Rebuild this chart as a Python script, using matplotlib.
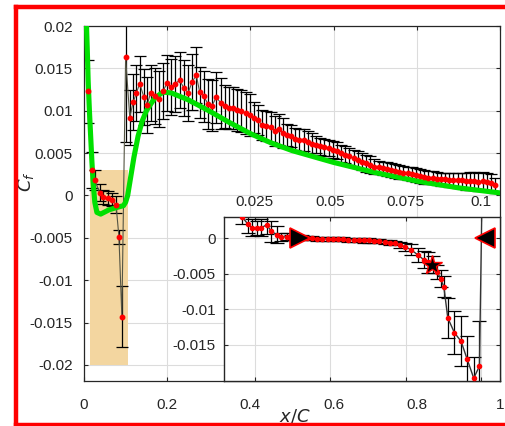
import matplotlib
matplotlib.use("Agg")
import matplotlib.pyplot as plt
from matplotlib.patches import Rectangle
from matplotlib.lines import Line2D

plt.rcParams['font.family'] = ['Liberation Sans', 'DejaVu Sans']

# ---------------- data ----------------
# CFD skin friction (green curve)
cfd_x = [0.006, 0.008, 0.010, 0.013, 0.016, 0.019, 0.022, 0.026, 0.031, 0.040, 0.060,
         0.080, 0.095, 0.100, 0.105, 0.110, 0.120, 0.130, 0.140, 0.150, 0.170, 0.190,
         0.210, 0.250, 0.300, 0.350, 0.400, 0.450, 0.500, 0.600, 0.700, 0.800, 0.900, 1.000]
cfd_y = [0.0200, 0.0170, 0.0135, 0.0100, 0.0070, 0.0040, 0.0015, -0.0008, -0.0020, -0.0022,
         -0.0017, -0.0014, -0.0012, -0.0008, 0.0000, 0.0015, 0.0045, 0.0070, 0.0088, 0.0100,
         0.0115, 0.0122, 0.0121, 0.0113, 0.0100, 0.0086, 0.0073, 0.0062, 0.0053, 0.0039,
         0.0027, 0.0017, 0.0009, 0.0003]

# experimental data, main axes
exp_x = [0.010, 0.019, 0.026, 0.038, 0.046, 0.058, 0.067, 0.077, 0.084, 0.091, 0.100,
         0.110, 0.118, 0.126, 0.134, 0.144, 0.152, 0.160, 0.170, 0.180, 0.190, 0.200,
         0.210, 0.219, 0.230, 0.240, 0.250, 0.260, 0.270, 0.278, 0.288, 0.298, 0.308,
         0.318, 0.329, 0.338, 0.348, 0.358, 0.368, 0.378, 0.389, 0.398, 0.409, 0.418,
         0.428, 0.438, 0.449, 0.458, 0.468, 0.478, 0.488, 0.498, 0.508, 0.518, 0.528,
         0.538, 0.548, 0.558, 0.568, 0.578, 0.588, 0.598, 0.608, 0.618, 0.628, 0.638,
         0.648, 0.658, 0.668, 0.678, 0.688, 0.698, 0.708, 0.718, 0.728, 0.738, 0.748,
         0.758, 0.768, 0.778, 0.788, 0.798, 0.808, 0.818, 0.828, 0.838, 0.848, 0.858,
         0.868, 0.878, 0.888, 0.898, 0.908, 0.918, 0.928, 0.938, 0.948, 0.958, 0.968,
         0.978, 0.988]
exp_y = [0.0123, 0.0030, 0.0018, 0.0003, -0.0002, -0.0003, -0.0005, -0.0011, -0.0049,
         -0.0143, 0.0163,
         0.0092, 0.0110, 0.0121, 0.0132, 0.0116, 0.0107, 0.0121, 0.0117, 0.0114, 0.0123,
         0.0133, 0.0128, 0.0132, 0.0136, 0.0127, 0.0121, 0.0134, 0.0142, 0.0122, 0.0117,
         0.0108, 0.0106, 0.0116, 0.0109, 0.0105, 0.0103, 0.0103, 0.0101, 0.0100, 0.0097,
         0.0095, 0.0092, 0.0089, 0.0083, 0.0082, 0.0081, 0.0076, 0.0078, 0.0074,
         0.0071, 0.0070, 0.0067, 0.0066, 0.0065, 0.0063, 0.0061, 0.0060, 0.0058, 0.0057,
         0.0056, 0.0054, 0.0053, 0.0050, 0.0048, 0.0046, 0.0044, 0.0042, 0.0040, 0.0038,
         0.0036, 0.0034, 0.0033, 0.0032, 0.0031, 0.0030, 0.0029, 0.0028, 0.0027, 0.0026,
         0.0025, 0.0024, 0.0023, 0.0022, 0.0021, 0.0021, 0.0020, 0.0019, 0.0019, 0.0018,
         0.0018, 0.0018, 0.0018, 0.0017, 0.0017, 0.0017, 0.0016, 0.0017, 0.0016, 0.0015,
         0.0012]
exp_err = [0.0037, 0.0021, 0.0012, 0.0010, 0.0008, 0.0008, 0.0008, 0.0010, 0.0008,
           0.0036, 0.0100,
           0.0033, 0.0033, 0.0033, 0.0033, 0.0033, 0.0033, 0.0033, 0.0033, 0.0033, 0.0033,
           0.0033, 0.0033, 0.0033, 0.0033, 0.0033, 0.0033, 0.0033, 0.0033, 0.0030, 0.0030,
           0.0030, 0.0030, 0.0030, 0.0030, 0.0025, 0.0025, 0.0025, 0.0025, 0.0025, 0.0025,
           0.0025, 0.0018, 0.0018, 0.0018, 0.0018, 0.0018, 0.0018, 0.0018, 0.0018,
           0.0013, 0.0013, 0.0013, 0.0013, 0.0013, 0.0013, 0.0013, 0.0010, 0.0010, 0.0010,
           0.0010, 0.0010, 0.0010, 0.0010, 0.0010, 0.0010, 0.0010, 0.0010, 0.0010, 0.0010,
           0.0010, 0.0009, 0.0008, 0.0008, 0.0008, 0.0008, 0.0008, 0.0008, 0.0008, 0.0008,
           0.0008, 0.0008, 0.0008, 0.0008, 0.0008, 0.0008, 0.0008, 0.0008, 0.0008, 0.0008,
           0.0008, 0.0009, 0.0009, 0.0010, 0.0011, 0.0011, 0.0011, 0.0011, 0.0011, 0.0010,
           0.0009]

# experimental data, inset (leading-edge bubble region)
ins_x = [0.0208, 0.0227, 0.0241, 0.0258, 0.0272, 0.0289, 0.0305, 0.0322, 0.0338, 0.0355,
         0.0371, 0.0388, 0.0405, 0.0422, 0.0440, 0.0457, 0.0474, 0.0491, 0.0508, 0.0525,
         0.0542, 0.0560, 0.0577, 0.0594, 0.0611, 0.0628, 0.0645, 0.0662, 0.0680, 0.0697,
         0.0714, 0.0731, 0.0748, 0.0767, 0.0789, 0.0809, 0.0822, 0.0839, 0.0854, 0.0865,
         0.0876, 0.0889, 0.0911, 0.0933, 0.0953, 0.0975, 0.0994, 0.1006]
ins_y = [0.0030, 0.0020, 0.0015, 0.0014, 0.0015, 0.0019, 0.0010, 0.0005, 0.0002, 0.0002,
         0.0001, 0.0001, 0.0001, 0.0000, 0.0000, -0.0001, -0.0001, -0.0001, -0.0001, -0.0001,
         -0.0001, -0.0002, -0.0002, -0.0002, -0.0003, -0.0003, -0.0004, -0.0004, -0.0005,
         -0.0006, -0.0007, -0.0009, -0.0012, -0.0016, -0.0023, -0.0030, -0.0034, -0.0037,
         -0.0047, -0.0057, -0.0068, -0.0112, -0.0133, -0.0145, -0.0170, -0.0197, -0.0180,
         0.0162]
ins_err = [0.0010, 0.0012, 0.0012, 0.0010, 0.0012, 0.0013, 0.0015, 0.0012, 0.0006, 0.0005,
           0.0004, 0.0003, 0.0003, 0.0003, 0.0003, 0.0003, 0.0003, 0.0003, 0.0003, 0.0003,
           0.0003, 0.0003, 0.0003, 0.0003, 0.0003, 0.0003, 0.0003, 0.0003, 0.0003, 0.0003,
           0.0003, 0.0004, 0.0006, 0.0008, 0.0010, 0.0012, 0.0015, 0.0012, 0.0010, 0.0012,
           0.0015, 0.0028, 0.0030, 0.0035, 0.0032, 0.0030, 0.0064, 0.0100]

# special markers in inset: separation (>), star, reattachment (<)
sep_pt = (0.0400, 0.0000)
star_pt = (0.0836, -0.0037)
reat_pt = (0.1012, 0.0001)

main_xticks = [0, 0.2, 0.4, 0.6, 0.8, 1.0]
main_xlabels = ['0', '0.2', '0.4', '0.6', '0.8', '1']
main_yticks = [-0.02, -0.015, -0.01, -0.005, 0, 0.005, 0.01, 0.015, 0.02]
main_ylabels = ['-0.02', '-0.015', '-0.01', '-0.005', '0', '0.005', '0.01', '0.015', '0.02']
ins_xticks = [0.025, 0.05, 0.075, 0.1]
ins_xlabels = ['0.025', '0.05', '0.075', '0.1']
ins_yticks = [-0.015, -0.01, -0.005, 0]
ins_ylabels = ['-0.015', '-0.01', '-0.005', '0']

# shaded zoom region (x0, x1, y0, y1)
shade = (0.0144, 0.105, -0.020, 0.0030)

# ---------------- styling ----------------
TXT = '#262626'
GRID = '#DCDCDC'
FS = 11

fig = plt.figure(figsize=(5.06, 4.26), dpi=100)

ax = fig.add_axes([84/506, 45/426, 416/506, 355/426])
ax.set_xlim(0, 1)
ax.set_ylim(-0.0219, 0.02)
ax.set_xticks(main_xticks)
ax.set_xticklabels(main_xlabels)
ax.set_yticks(main_yticks)
ax.set_yticklabels(main_ylabels)
ax.grid(True, color=GRID, lw=0.8, zorder=0)
ax.set_axisbelow(True)
ax.tick_params(direction='in', top=True, right=True, length=3, colors=TXT,
               labelsize=FS)
ax.tick_params(axis='y', pad=8)
ax.tick_params(axis='x', pad=12)
for s in ax.spines.values():
    s.set_color(TXT)
    s.set_linewidth(0.9)

ax.add_patch(Rectangle((shade[0], shade[2]), shade[1] - shade[0], shade[3] - shade[2],
                       facecolor='#F3D6A0', edgecolor='none', zorder=1))

ax.errorbar(exp_x, exp_y, yerr=exp_err, fmt='none', ecolor='black', elinewidth=0.9,
            capsize=4.5, capthick=0.9, zorder=2)
ax.plot(exp_x, exp_y, color='#555544', lw=0.8, zorder=2.5)
ax.plot(cfd_x, cfd_y, color='#00E000', lw=3.7, solid_capstyle='round', zorder=3)
ax.plot(exp_x, exp_y, 'o', color='red', ms=3.2, mec='red', zorder=4)

ax.set_xlabel('$x/C$', fontsize=13, color=TXT)
ax.xaxis.set_label_coords(0.507, -0.075)
ax.set_ylabel('$C_f$', fontsize=13, color=TXT)
ax.yaxis.set_label_coords(-0.115, 0.56)

# inset
ai = fig.add_axes([224/506, 45/426, 276/506, 164/426], zorder=5)
ai.set_facecolor('white')
ai.set_xlim(0.0148, 0.1062)
ai.set_ylim(-0.0201, 0.0030)
ai.set_xticks(ins_xticks)
ai.set_xticklabels(ins_xlabels)
ai.set_yticks(ins_yticks)
ai.set_yticklabels(ins_ylabels)
ai.grid(True, color=GRID, lw=0.8, zorder=0)
ai.set_axisbelow(True)
ai.tick_params(direction='in', top=True, right=True, bottom=True, left=True,
               labeltop=True, labelbottom=False, length=3, colors=TXT,
               labelsize=FS, pad=6)
for s in ai.spines.values():
    s.set_color(TXT)
    s.set_linewidth(1.0)

ai.errorbar(ins_x, ins_y, yerr=ins_err, fmt='none', ecolor='black', elinewidth=0.9,
            capsize=5, capthick=0.9, zorder=2)
ai.plot(ins_x, ins_y, color='#333333', lw=1.0, zorder=2.5)
ai.plot(ins_x, ins_y, 'o', color='red', ms=3.0, mec='red', zorder=4)
ai.plot(*sep_pt, marker='>', ms=15, mfc='black', mec='red', mew=1.2, zorder=5, clip_on=False)
ai.plot(*star_pt, marker='*', ms=15, mfc='black', mec='red', mew=1.0, zorder=5)
ai.plot(*reat_pt, marker='<', ms=15, mfc='black', mec='red', mew=1.2, zorder=5, clip_on=False)

# red frame around the figure
W, H = 506, 426
def px(x, y):
    return x / W, 1 - y / H
for (x0, y0, x1, y1) in [(16, 7, 506, 7), (16, 7, 16, 425), (16, 425, 506, 425)]:
    (a, b), (c, d) = px(x0, y0), px(x1, y1)
    fig.add_artist(Line2D([a, c], [b, d], color='red', lw=3.2, transform=fig.transFigure,
                          solid_capstyle='projecting'))

fig.savefig('out.png', dpi=100)
